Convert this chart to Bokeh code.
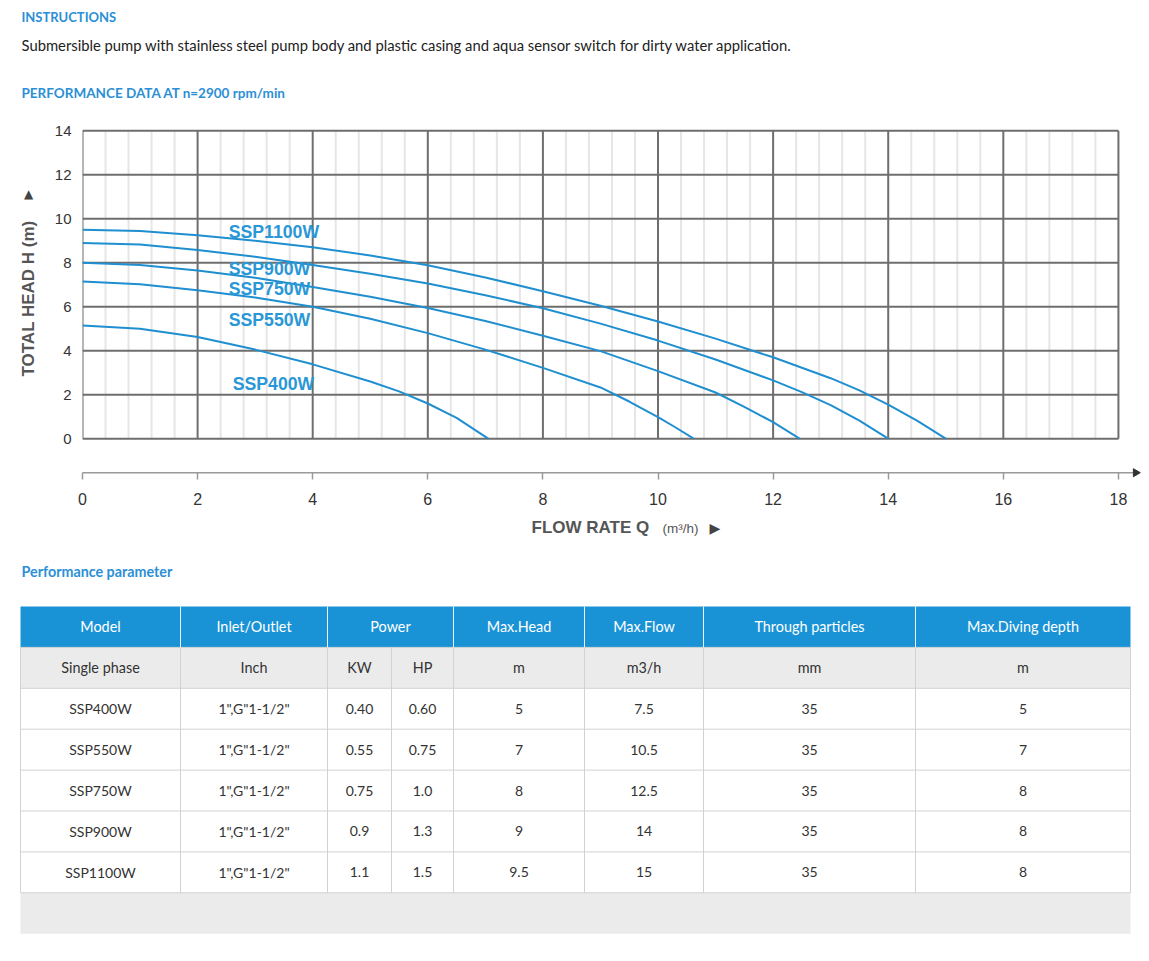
import math
from bokeh.plotting import figure
from bokeh.layouts import column, row
from bokeh.models import Range1d, FixedTicker
from bokeh.core.properties import value
from bokeh.embed import file_html
from bokeh.resources import INLINE

# ---------------- data ----------------
series_names = ["SSP1100W", "SSP900W", "SSP750W", "SSP550W", "SSP400W"]

flow_1100 = [0, 1, 2, 3, 4, 5, 6, 7, 8, 9, 10, 11, 12, 13, 13.5, 14, 14.5, 15]
head_1100 = [9.5, 9.44, 9.25, 9.0, 8.7, 8.33, 7.88, 7.33, 6.7, 6.04, 5.33, 4.55, 3.7, 2.75, 2.2, 1.55, 0.82, 0]

flow_900 = [0, 1, 2, 3, 4, 5, 6, 7, 8, 9, 10, 11, 12, 12.5, 13, 13.5, 14]
head_900 = [8.9, 8.83, 8.58, 8.27, 7.9, 7.5, 7.05, 6.52, 5.93, 5.23, 4.46, 3.6, 2.65, 2.12, 1.53, 0.82, 0]

flow_750 = [0, 1, 2, 3, 4, 5, 6, 7, 8, 9, 10, 11, 11.5, 12, 12.46]
head_750 = [8.0, 7.9, 7.65, 7.32, 6.9, 6.45, 5.94, 5.35, 4.68, 3.98, 3.07, 2.1, 1.45, 0.75, 0]

flow_550 = [0, 1, 2, 3, 4, 5, 6, 7, 8, 9, 9.5, 10, 10.3, 10.62]
head_550 = [7.15, 7.02, 6.75, 6.42, 6.0, 5.45, 4.8, 4.05, 3.22, 2.33, 1.69, 0.98, 0.52, 0]

flow_400 = [0, 1, 2, 3, 4, 5, 5.5, 6, 6.5, 7.05]
head_400 = [5.15, 5.0, 4.62, 4.05, 3.38, 2.6, 2.15, 1.6, 0.95, 0]

x_ticks = [0, 2, 4, 6, 8, 10, 12, 14, 16, 18]
y_ticks = [0, 2, 4, 6, 8, 10, 12, 14]
x_minor_step = 0.4

# table
header_cols = ["Model", "Inlet/Outlet", "Power", "Max.Head", "Max.Flow", "Through particles", "Max.Diving depth"]
unit_cols = ["Single phase", "Inch", "KW", "HP", "m", "m3/h", "mm", "m"]
models = ["SSP400W", "SSP550W", "SSP750W", "SSP900W", "SSP1100W"]
inlet = ['1",G"1-1/2"', '1",G"1-1/2"', '1",G"1-1/2"', '1",G"1-1/2"', '1",G"1-1/2"']
power_kw = ["0.40", "0.55", "0.75", "0.9", "1.1"]
power_hp = ["0.60", "0.75", "1.0", "1.3", "1.5"]
max_head = ["5", "7", "8", "9", "9.5"]
max_flow = ["7.5", "10.5", "12.5", "14", "15"]
particles = ["35", "35", "35", "35", "35"]
diving = ["5", "7", "8", "8", "8"]

# ---------------- styles ----------------
W = 1141
BLUE_TITLE = "#2b8fd6"
CURVE = "#1f8fd0"
CURVE_LABEL = "#2a97d7"
GRID_MAJOR = "#6e6e6e"
GRID_MINOR = "#e6e6e6"
TABLE_BLUE = "#1a93d6"
TABLE_GRAY = "#ebebeb"
BORDER = "#d2d2d2"
PAGE_FONT = "Lato"
CHART_FONT = "Liberation Sans"


def blank_fig(w, h, x0, x1, y0, y1):
    f = figure(width=w, height=h, x_range=Range1d(x0, x1), y_range=Range1d(y1, y0),
               output_backend="svg", toolbar_location=None,
               x_axis_location=None, y_axis_location=None,
               min_border=0, outline_line_color=None, frame_align=False)
    f.xgrid.visible = False
    f.ygrid.visible = False
    return f

# ---------------- header ----------------
hdr = blank_fig(W, 110, 0, W, 0, 110)
hdr.text(x=[21], y=[16], text=["INSTRUCTIONS"], text_font=value(PAGE_FONT),
         text_font_size="13px", text_font_style="bold", text_color=BLUE_TITLE,
         text_baseline="middle", text_align="left")
hdr.text(x=[21], y=[44], text=["Submersible pump with stainless steel pump body and plastic casing and aqua sensor switch for dirty water application."],
         text_font=value(PAGE_FONT), text_font_size="14.8px", text_color="#222222",
         text_baseline="middle", text_align="left")
hdr.text(x=[21], y=[92], text=["PERFORMANCE DATA AT n=2900 rpm/min"], text_font=value(PAGE_FONT),
         text_font_size="13.5px", text_font_style="bold", text_color=BLUE_TITLE,
         text_baseline="middle", text_align="left")

# ---------------- left strip (y title) ----------------
strip = blank_fig(48, 400, 0, 48, 110, 510)
strip.text(x=[28], y=[298], text=["TOTAL HEAD H (m)"], angle=math.pi / 2,
           text_font=value(CHART_FONT), text_font_style="bold", text_font_size="17px",
           text_color="#555555", text_baseline="middle", text_align="center")
strip.text(x=[28], y=[193], text=["▲"], text_font=value("DejaVu Sans"), text_font_size="12px",
           text_color="#444444", text_baseline="middle", text_align="center")

# ---------------- chart ----------------
p = figure(width=W - 48, height=400, x_range=Range1d(0, 18.401), y_range=Range1d(-1.8545, 14.1),
           output_backend="svg", toolbar_location=None, frame_align=False,
           min_border_left=34, min_border_right=0, min_border_top=18, min_border_bottom=31,
           outline_line_color=None)
p.xgrid.visible = False
p.ygrid.visible = False

minor_x = []
k = 1
while k * x_minor_step < 18 - 1e-9:
    v = round(k * x_minor_step, 2)
    if abs(v / 2 - round(v / 2)) > 1e-6:
        minor_x.append(v)
    k += 1

# grid drawn on the chart's own scales
p.segment(x0=minor_x, y0=[0] * len(minor_x), x1=minor_x, y1=[14] * len(minor_x),
          line_color=GRID_MINOR, line_width=2)
p.segment(x0=[0] * len(y_ticks), y0=y_ticks, x1=[18] * len(y_ticks), y1=y_ticks,
          line_color=GRID_MAJOR, line_width=2)
p.segment(x0=x_ticks, y0=[0] * len(x_ticks), x1=x_ticks, y1=[14] * len(x_ticks),
          line_color=GRID_MAJOR, line_width=2)

p.yaxis.ticker = FixedTicker(ticks=y_ticks)
p.yaxis.axis_line_color = None
p.yaxis.major_tick_line_color = None
p.yaxis.minor_tick_line_color = None
p.yaxis.major_tick_out = 0
p.yaxis.major_tick_in = 0
p.yaxis.major_label_standoff = 11
p.yaxis.major_label_text_font = CHART_FONT
p.yaxis.major_label_text_font_size = "15px"
p.yaxis.major_label_text_color = "#333333"

xa = p.xaxis[0]
xa.ticker = FixedTicker(ticks=x_ticks)
xa.axis_line_color = None
xa.major_tick_line_color = "#9a9a9a"
xa.major_tick_line_width = 1.5
xa.major_tick_out = 0
xa.major_tick_in = 7
xa.minor_tick_line_color = None
xa.major_label_standoff = 13
xa.major_label_text_font = CHART_FONT
xa.major_label_text_font_size = "16px"
xa.major_label_text_color = "#333333"

# axis line with arrow head at the axis position
AX_Y = -1.545
p.line(x=[0, 18.3], y=[AX_Y, AX_Y], line_color="#9a9a9a", line_width=1.5)
p.scatter(x=[18.3], y=[AX_Y], marker="triangle", size=8, angle=-math.pi / 2,
          fill_color="#333333", line_color="#333333")

flows = [flow_1100, flow_900, flow_750, flow_550, flow_400]
heads = [head_1100, head_900, head_750, head_550, head_400]
for fl, hd in zip(flows, heads):
    p.line(fl, hd, line_color=CURVE, line_width=2, line_join="round")

label_x = [2.54, 2.54, 2.54, 2.54, 2.61]
label_y = [9.41, 7.73, 6.82, 5.41, 2.5]
p.text(x=label_x, y=label_y, text=series_names, text_font=value(CHART_FONT),
       text_font_size="17.7px", text_font_style="bold", text_color=CURVE_LABEL,
       text_baseline="middle", text_align="left")

# ---------------- table (+ x title) ----------------
t = blank_fig(W, 425, 0, W, 510, 935)
t.text(x=[531], y=[527], text=["FLOW RATE Q"], text_font=value(CHART_FONT),
       text_font_style="bold", text_font_size="17px", text_color="#555555",
       text_baseline="middle", text_align="left")
t.text(x=[662], y=[528], text=["(m³/h)"], text_font=value(CHART_FONT),
       text_font_size="13.5px", text_color="#555555", text_baseline="middle", text_align="left")
t.text(x=[709], y=[527], text=["▶"], text_font=value("DejaVu Sans"),
       text_font_size="14px", text_color="#444444", text_baseline="middle", text_align="left")

t.text(x=[21], y=[571], text=["Performance parameter"], text_font=value(PAGE_FONT),
       text_font_size="14.3px", text_font_style="bold", text_color=BLUE_TITLE,
       text_baseline="middle", text_align="left")

col_edges = [20, 180, 327, 391, 453, 584, 703, 915, 1130]
top0 = 606
rh = 40.9
n_rows = 2 + len(models)
row_top = [top0 + i * rh for i in range(n_rows + 2)]

t.quad(left=[col_edges[0]], right=[col_edges[-1]], top=[row_top[0]], bottom=[row_top[1]],
       fill_color=TABLE_BLUE, line_color=None)
t.quad(left=[col_edges[0]], right=[col_edges[-1]], top=[row_top[1]], bottom=[row_top[2]],
       fill_color=TABLE_GRAY, line_color=None)
t.quad(left=[col_edges[0]], right=[col_edges[-1]], top=[row_top[n_rows]], bottom=[row_top[n_rows + 1]],
       fill_color=TABLE_GRAY, line_color=None)

hx0, hx1, hy = [], [], []
for r in range(1, n_rows + 1):
    hx0.append(col_edges[0]); hx1.append(col_edges[-1]); hy.append(row_top[r])
t.segment(x0=hx0, y0=hy, x1=hx1, y1=hy, line_color=BORDER, line_width=1)
vx = list(col_edges)
t.segment(x0=vx, y0=[row_top[1]] * len(vx), x1=vx, y1=[row_top[n_rows]] * len(vx),
          line_color=BORDER, line_width=1)
hdr_edges = [col_edges[i] for i in (1, 2, 4, 5, 6, 7)]
t.segment(x0=hdr_edges, y0=[row_top[0]] * len(hdr_edges), x1=hdr_edges, y1=[row_top[1]] * len(hdr_edges),
          line_color="#e8f3fb", line_width=1)

hdr_spans = [(0, 1), (1, 2), (2, 4), (4, 5), (5, 6), (6, 7), (7, 8)]
hx = [(col_edges[a] + col_edges[b]) / 2 for a, b in hdr_spans]
t.text(x=hx, y=[row_top[0] + rh / 2] * len(hx), text=header_cols, text_font=value(PAGE_FONT),
       text_font_size="14.4px", text_color="#ffffff", text_baseline="middle", text_align="center")

centers = [(col_edges[i] + col_edges[i + 1]) / 2 for i in range(8)]
t.text(x=centers, y=[row_top[1] + rh / 2] * 8, text=unit_cols, text_font=value(PAGE_FONT),
       text_font_size="14.4px", text_color="#333333", text_baseline="middle", text_align="center")

cols = [models, inlet, power_kw, power_hp, max_head, max_flow, particles, diving]
tx, ty, tt = [], [], []
for ri in range(len(models)):
    for ci, col in enumerate(cols):
        tx.append(centers[ci]); ty.append(row_top[2 + ri] + rh / 2); tt.append(col[ri])
t.text(x=tx, y=ty, text=tt, text_font=value(PAGE_FONT), text_font_size="14px",
       text_color="#333333", text_baseline="middle", text_align="center")

layout = column(hdr, row(strip, p, spacing=0), t, spacing=0)
open("out.html", "w").write(file_html(layout, INLINE))
